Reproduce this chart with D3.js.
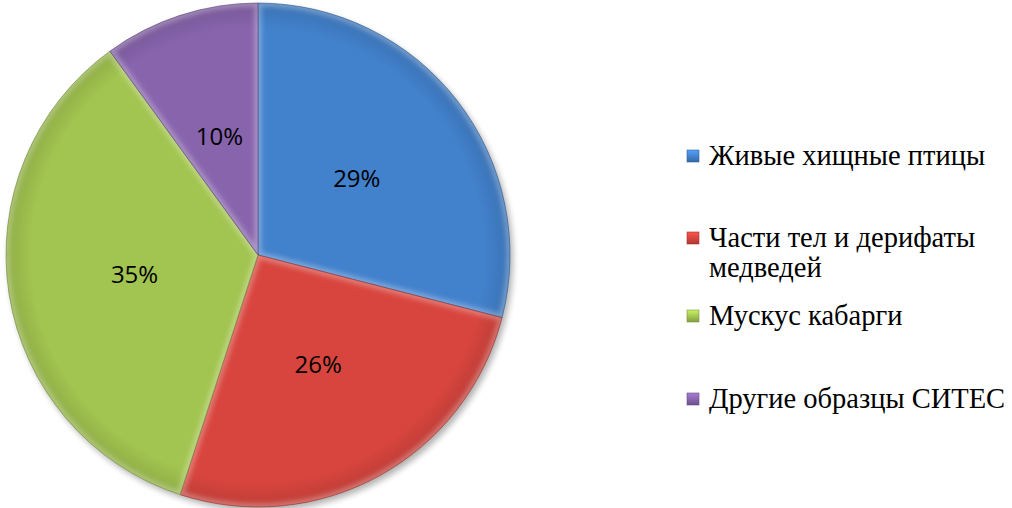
<!DOCTYPE html>
<html>
<head>
<meta charset="utf-8">
<script src="https://cdnjs.cloudflare.com/ajax/libs/d3/7.8.5/d3.min.js"></script>
<style>
  body { margin: 0; background: #fff; }
  svg { display: block; }
</style>
</head>
<body>
<div id="chart"></div>
<script>
var categories = ['Живые хищные птицы', 'Части тел и дерифаты медведей', 'Мускус кабарги', 'Другие образцы СИТЕС'];
var values = [29, 26, 35, 10];
var colors = ['#4281cc', '#d8453e', '#a2c450', '#8864ad'];
var legendLines = [['Живые хищные птицы'], ['Части тел и дерифаты', 'медведей'], ['Мускус кабарги'], ['Другие образцы СИТЕС']];

var W = 1012, H = 508;
var cx = 258, cy = 255, R = 252;

var svg = d3.select('#chart').append('svg')
	.attr('width', W)
	.attr('height', H);

var defs = svg.append('defs');

var shadow = defs.append('filter').attr('id', 'shadow')
	.attr('x', '-10%').attr('y', '-10%').attr('width', '120%').attr('height', '120%');
shadow.append('feGaussianBlur').attr('in', 'SourceAlpha').attr('stdDeviation', 3);

var rimBlur = defs.append('filter').attr('id', 'rimblur');
rimBlur.append('feGaussianBlur').attr('stdDeviation', 2.5);

// darker toward the rim, like the bevel in the original
var rg = defs.append('radialGradient').attr('id', 'rimshade')
	.attr('gradientUnits', 'userSpaceOnUse')
	.attr('cx', 0).attr('cy', 0).attr('r', R);
rg.append('stop').attr('offset', '0.9').attr('stop-color', '#000').attr('stop-opacity', 0);
rg.append('stop').attr('offset', '1').attr('stop-color', '#000').attr('stop-opacity', 0.12);

var pie = d3.pie().sort(null).value(function(d) { return d; });
var arcs = pie(values);
var arc = d3.arc().innerRadius(0).outerRadius(R);
var labelArc = d3.arc().innerRadius(125).outerRadius(125);

var g = svg.append('g').attr('transform', 'translate(' + cx + ',' + cy + ')');

g.append('circle')
	.attr('cx', 3).attr('cy', 4).attr('r', R)
	.attr('fill', '#000').attr('opacity', 0.3)
	.attr('filter', 'url(#shadow)');

arcs.forEach(function(a, i) {
	defs.append('clipPath').attr('id', 'clip' + i)
		.append('path').attr('d', arc(a));
});

var slices = g.selectAll('g.slice').data(arcs).enter().append('g').attr('class', 'slice');

slices.append('path')
	.attr('d', arc)
	.attr('fill', function(d, i) { return colors[i]; });

slices.append('path')
	.attr('d', arc)
	.attr('fill', 'url(#rimshade)');

// light inner edge
slices.append('g')
	.attr('clip-path', function(d, i) { return 'url(#clip' + i + ')'; })
	.append('path')
	.attr('d', arc)
	.attr('fill', 'none')
	.attr('stroke', '#fff')
	.attr('stroke-opacity', 0.3)
	.attr('stroke-width', 7)
	.attr('filter', 'url(#rimblur)');

slices.append('path')
	.attr('d', arc)
	.attr('fill', 'none')
	.attr('stroke', function(d, i) { return d3.color(colors[i]).darker(1); })
	.attr('stroke-width', 0.6);

g.selectAll('text.pct').data(arcs).enter().append('text')
	.attr('class', 'pct')
	.attr('transform', function(d) { return 'translate(' + labelArc.centroid(d) + ')'; })
	.attr('text-anchor', 'middle')
	.attr('dy', '0.36em')
	.style('font-family', '"Open Sans", sans-serif')
	.style('font-size', '24px')
	.attr('fill', '#000')
	.text(function(d) { return d.data + '%'; });

// legend
var legendY = [165, 247, 325, 408];
var legend = svg.append('g');

legendLines.forEach(function(lines, i) {
	var c = d3.color(colors[i]);
	var gr = defs.append('linearGradient').attr('id', 'lg' + i)
		.attr('x1', 0).attr('y1', 0).attr('x2', 0).attr('y2', 1);
	gr.append('stop').attr('offset', 0).attr('stop-color', c.brighter(0.6));
	gr.append('stop').attr('offset', 1).attr('stop-color', c.darker(0.6));

	legend.append('rect')
		.attr('x', 687).attr('y', legendY[i] - 15)
		.attr('width', 12).attr('height', 12)
		.attr('fill', 'url(#lg' + i + ')')
		.attr('stroke', c.darker(0.8))
		.attr('stroke-width', 0.6);

	var t = legend.append('text')
		.attr('x', 709).attr('y', legendY[i])
		.style('font-family', '"Liberation Serif", "Times New Roman", serif')
		.style('font-size', '28.5px')
		.attr('fill', '#000');
	lines.forEach(function(line, j) {
		t.append('tspan')
			.attr('x', 709)
			.attr('dy', j === 0 ? 0 : 30)
			.text(line);
	});
});
</script>
</body>
</html>
